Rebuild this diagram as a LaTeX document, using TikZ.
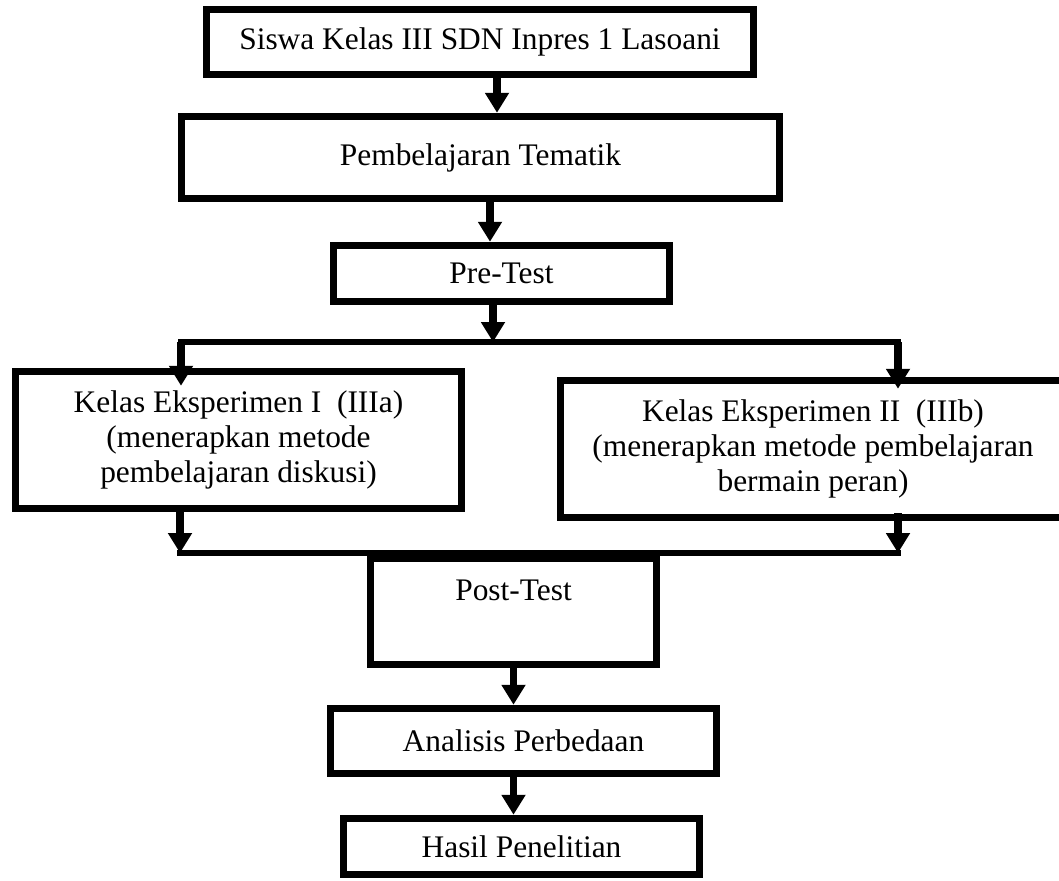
\documentclass[tikz,border=0pt]{standalone}
\usepackage{fontspec}
\setmainfont{Liberation Serif}
\usetikzlibrary{arrows.meta}
\tikzset{
  box/.style={draw, rectangle, line width=3.75pt, align=center, inner sep=0pt},
  flow/.style={line width=3.75pt, -{Triangle[length=10pt, width=11.5pt]}},
  link/.style={line width=2.75pt, line cap=rect}
}

\begin{document}
\begin{tikzpicture}[x=0.5pt, y=-0.5pt, font=\fontsize{15.7}{17.5}\selectfont]
    \useasboundingbox (0,0) rectangle (1059,880);

    % Main column
    \node[box, minimum width=273.5pt, minimum height=32.5pt] (siswa) at (480,42) {Siswa Kelas III SDN Inpres 1 Lasoani};
    \node[box, minimum width=299pt, minimum height=41pt] (tematik) at (480.5,157.5) {Pembelajaran Tematik};
    \node[box, minimum width=168pt, minimum height=28pt] (pretest) at (501.5,273.5) {Pre-Test};

    % Experiment classes
    \node[box, minimum width=223pt, minimum height=68.5pt] (eksA) at (238.5,440) {Kelas Eksperimen I\ \ (IIIa)\\(menerapkan metode\\pembelajaran diskusi)};
    \node[box, minimum width=252.75pt, minimum height=68.5pt] (eksB) at (813,449) {Kelas Eksperimen II\ \ (IIIb)\\(menerapkan metode pembelajaran\\bermain peran)};

    % Lower column
    \node[box, minimum width=143pt, minimum height=53pt, text depth=21pt] (posttest) at (513.5,611.5) {Post-Test};
    \node[box, minimum width=193pt, minimum height=32.5pt] (analisis) at (523.5,741) {Analisis Perbedaan};
    \node[box, minimum width=178pt, minimum height=28pt] (hasil) at (521.5,846.5) {Hasil Penelitian};

    % Branch and join points
    \coordinate (split) at (493,342);
    \coordinate (splitA) at (181,342);
    \coordinate (splitB) at (898,342);
    \coordinate (joinA) at (180,553);
    \coordinate (joinB) at (898,553);

    % Arrows down the column
    \draw[flow] (siswa.south -| 497,0) -- (tematik.north -| 497,0);
    \draw[flow] (tematik.south -| 490,0) -- (pretest.north -| 490,0);
    \draw[flow] (split |- pretest.south) -- (split);

    % Branch to both classes
    \draw[link] (splitA) -- (splitB);
    \draw[flow, shorten >=-9pt] (splitA) -- (splitA |- eksA.north);
    \draw[flow, shorten >=-6pt] (splitB) -- (splitB |- eksB.north);

    % Join into the post-test
    \draw[flow] (joinA |- eksA.south) -- (joinA);
    \draw[flow, shorten <=-4pt] (joinB |- eksB.south) -- (joinB);
    \draw[link] (joinA) -- (joinB);

    \draw[flow] (posttest.south) -- (posttest.south |- analisis.north);
    \draw[flow] (analisis.south -| posttest.south) -- (hasil.north -| posttest.south);
\end{tikzpicture}
\end{document}
